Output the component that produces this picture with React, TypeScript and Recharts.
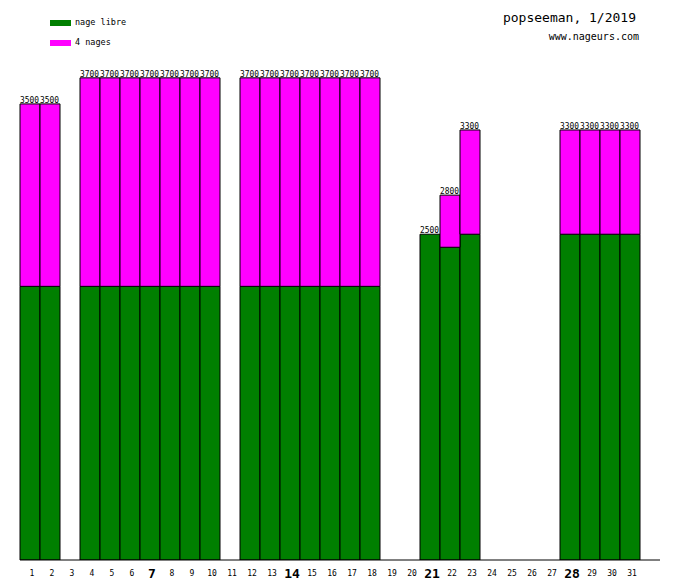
import { BarChart, Bar, XAxis, YAxis, LabelList } from "recharts";

const days = [
  "1", "2", "3", "4", "5", "6", "7", "8", "9", "10", "11", "12", "13", "14", "15", "16",
  "17", "18", "19", "20", "21", "22", "23", "24", "25", "26", "27", "28", "29", "30", "31",
];
const nageLibre = [
  2100, 2100, null, 2100, 2100, 2100, 2100, 2100, 2100, 2100, null, 2100, 2100, 2100, 2100, 2100,
  2100, 2100, null, null, 2500, 2400, 2500, null, null, null, null, 2500, 2500, 2500, 2500,
];
const quatreNages = [
  1400, 1400, null, 1600, 1600, 1600, 1600, 1600, 1600, 1600, null, 1600, 1600, 1600, 1600, 1600,
  1600, 1600, null, null, 0, 400, 800, null, null, null, null, 800, 800, 800, 800,
];
const totals = [
  3500, 3500, null, 3700, 3700, 3700, 3700, 3700, 3700, 3700, null, 3700, 3700, 3700, 3700, 3700,
  3700, 3700, null, null, 2500, 2800, 3300, null, null, null, null, 3300, 3300, 3300, 3300,
];
const boldDays = ["7", "14", "21", "28"];

const MONO = "'DejaVu Sans Mono', monospace";

// an empty slot at the end so the axis runs one bar past day 31
const chartData = [
  ...days.map((d, i) => ({
    day: d,
    libre: nageLibre[i],
    quatre: quatreNages[i],
    // total sits on whichever segment is the top one
    topLibre: quatreNages[i] ? null : totals[i],
    topQuatre: quatreNages[i] ? totals[i] : null,
  })),
  { day: "", libre: null, quatre: null, topLibre: null, topQuatre: null },
];

// eslint-disable-next-line @typescript-eslint/no-explicit-any
function DayTick(props: any) {
  const { x, y, payload } = props;
  const v = payload?.value;
  if (!v) return null;
  const bold = boldDays.includes(v);
  return (
    <text
      x={x + 2}
      y={y + (bold ? 10 : 8)}
      textAnchor="middle"
      fontFamily={MONO}
      fontSize={bold ? 13 : 8}
      fontWeight={bold ? "bold" : "normal"}
      fill="#000"
    >
      {v}
    </text>
  );
}

// eslint-disable-next-line @typescript-eslint/no-explicit-any
function TotalLabel(props: any) {
  const { x, y, value } = props;
  if (value == null || !Number.isFinite(x) || !Number.isFinite(y)) return null;
  return (
    <text
      x={x}
      y={y - 1}
      fontFamily={MONO}
      fontSize={8.3}
      fill="#000"
      textLength={19}
      lengthAdjust="spacingAndGlyphs"
    >
      {value}
    </text>
  );
}

export default function App() {
  return (
    <div
      style={{
        position: "absolute",
        left: 0,
        top: 0,
        width: 680,
        height: 580,
        background: "#fff",
      }}
    >
      <BarChart
        width={680}
        height={580}
        data={chartData}
        barCategoryGap={0}
        barGap={0}
        margin={{ top: 20, right: 20, bottom: 0, left: 20 }}
      >
        <XAxis
          dataKey="day"
          interval={0}
          tickLine={false}
          axisLine={{ stroke: "#000", strokeWidth: 1 }}
          height={20}
          tick={<DayTick />}
        />
        <YAxis
          width={0}
          domain={[0, 4144]}
          tick={false}
          tickLine={false}
          axisLine={{ stroke: "#000", strokeWidth: 1 }}
          allowDataOverflow
        />
        <Bar
          dataKey="libre"
          stackId="a"
          fill="#007f00"
          stroke="#000"
          strokeWidth={1}
          isAnimationActive={false}
        >
          <LabelList dataKey="topLibre" content={<TotalLabel />} />
        </Bar>
        <Bar
          dataKey="quatre"
          stackId="a"
          fill="#ff00ff"
          stroke="#000"
          strokeWidth={1}
          isAnimationActive={false}
        >
          <LabelList dataKey="topQuatre" content={<TotalLabel />} />
        </Bar>
      </BarChart>

      <svg
        width={680}
        height={60}
        style={{ position: "absolute", left: 0, top: 0, pointerEvents: "none" }}
      >
        <rect x={50} y={20} width={21} height={6} fill="#007f00" />
        <text x={75} y={25} fontFamily={MONO} fontSize={8.5} fill="#000">
          nage libre
        </text>
        <rect x={50} y={40} width={21} height={6} fill="#ff00ff" />
        <text x={75} y={45} fontFamily={MONO} fontSize={8.5} fill="#000">
          4 nages
        </text>
        <text x={636} y={22} textAnchor="end" fontFamily={MONO} fontSize={13} fill="#000">
          popseeman, 1/2019
        </text>
        <text x={639} y={40} textAnchor="end" fontFamily={MONO} fontSize={10} fill="#000">
          www.nageurs.com
        </text>
      </svg>
    </div>
  );
}
